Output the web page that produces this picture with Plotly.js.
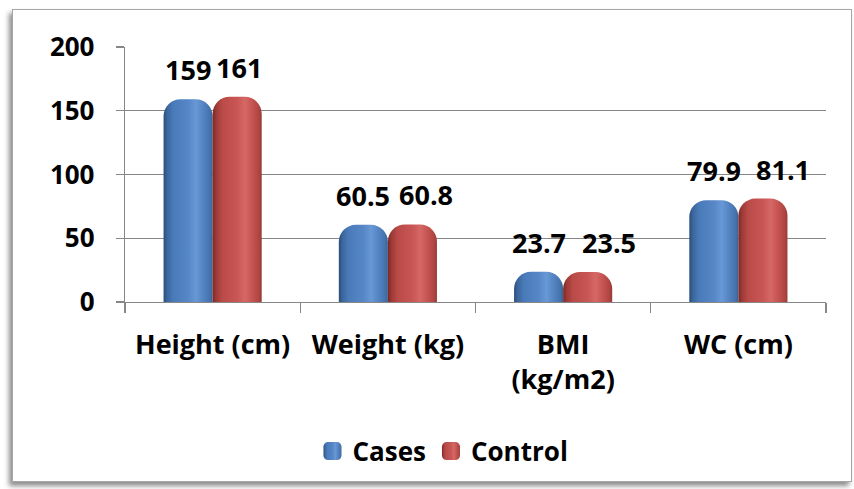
<!DOCTYPE html>
<html>
<head>
<meta charset="utf-8">
<script src="https://cdn.plot.ly/plotly-3.0.1.min.js"></script>
<style>
  html, body { margin: 0; padding: 0; background: #ffffff; }
  #wrap { position: relative; width: 854px; height: 489px; overflow: hidden; background: #ffffff; }
  #frame {
    position: absolute; left: 12px; top: 9px; width: 838px; height: 471px;
    border: 1px solid #a6a6a6; background: #ffffff;
    box-shadow: -3px 4px 5px rgba(0, 0, 0, 0.45);
  }
  #chart { position: absolute; left: 0; top: 0; width: 854px; height: 489px; }
</style>
</head>
<body>
<div id="wrap">
  <div id="frame"></div>
  <div id="chart"></div>
</div>
<script>
// Anthropometric measures, cases vs. controls
const categories = ['Height (cm)', 'Weight (kg)', 'BMI<br>(kg/m2)', 'WC (cm)'];
const casesValues = [159, 60.5, 23.7, 79.9];
const controlValues = [161, 60.8, 23.5, 81.1];
const seriesNames = ['Cases', 'Control'];
const yTickValues = [0, 50, 100, 150, 200];

// horizontal nudge (px) applied to the Control value labels
const controlLabelNudge = [2, 14, 21, 20];

const FONT = '"Open Sans", "Noto Sans", "Liberation Sans", sans-serif';
const AXIS_GREY = '#878787';
const BAR_SHIFT = 24.5;

const traces = [
  {
    type: 'bar', name: seriesNames[0], x: categories, y: casesValues,
    marker: { color: '#4f81bd', cornerradius: 17, line: { width: 0 } },
    hoverinfo: 'skip'
  },
  {
    type: 'bar', name: seriesNames[1], x: categories, y: controlValues,
    marker: { color: '#c0504d', cornerradius: 17, line: { width: 0 } },
    hoverinfo: 'skip'
  }
];

const labelFont = { family: FONT, size: 27, color: '#000000', weight: 700 };
const annotations = [];
categories.forEach((cat, i) => {
  annotations.push({
    x: cat, y: casesValues[i], text: String(casesValues[i]),
    xref: 'x', yref: 'y', showarrow: false,
    xanchor: 'center', yanchor: 'bottom',
    xshift: -BAR_SHIFT, yshift: 9, font: labelFont
  });
  annotations.push({
    x: cat, y: controlValues[i], text: String(controlValues[i]),
    xref: 'x', yref: 'y', showarrow: false,
    xanchor: 'center', yanchor: 'bottom',
    xshift: BAR_SHIFT + controlLabelNudge[i], yshift: 9, font: labelFont
  });
});

const layout = {
  width: 854, height: 489,
  margin: { l: 125, r: 28, t: 47, b: 187, pad: 0 },
  paper_bgcolor: 'rgba(0,0,0,0)',
  plot_bgcolor: 'rgba(0,0,0,0)',
  barmode: 'group', bargap: 0.44, bargroupgap: 0,
  font: { family: FONT, color: '#000000' },
  showlegend: true,
  legend: {
    orientation: 'h', x: 0.4536, xanchor: 'center', y: -0.585, yanchor: 'middle',
    font: { family: FONT, size: 26, color: '#000000', weight: 700 },
    bgcolor: 'rgba(0,0,0,0)', itemwidth: 30, tracegroupgap: 0,
    traceorder: 'normal'
  },
  xaxis: {
    type: 'category',
    showline: true, linecolor: AXIS_GREY, linewidth: 1.3,
    ticks: 'outside', ticklen: 10, tickcolor: AXIS_GREY, tickwidth: 1.3,
    tickson: 'boundaries',
    showgrid: false, zeroline: false,
    tickfont: { family: FONT, size: 27, color: '#000000', weight: 700 },
    ticklabelstandoff: 18
  },
  yaxis: {
    range: [0, 200], autorange: false,
    tickvals: yTickValues, ticktext: yTickValues.map(String),
    showline: true, linecolor: AXIS_GREY, linewidth: 1.3,
    ticks: 'outside', ticklen: 8, tickcolor: AXIS_GREY, tickwidth: 1.3,
    showgrid: true, gridcolor: AXIS_GREY, gridwidth: 1.3,
    zeroline: false,
    tickfont: { family: FONT, size: 26, color: '#000000', weight: 700 },
    ticklabelstandoff: 16
  },
  annotations: annotations
};

// cylinder-style shading for the bars and legend keys
const gradients = {
  gradCases: [
    [0, '#2b4d7a'], [0.07, '#3b659c'], [0.2, '#4a7bb9'], [0.5, '#5686c6'],
    [0.66, '#6898d5'], [0.8, '#5585c4'], [0.94, '#4673ad'], [1, '#3a6396']
  ],
  gradControl: [
    [0, '#7a2826'], [0.07, '#9c3936'], [0.2, '#ba4b48'], [0.5, '#c85654'],
    [0.66, '#d56865'], [0.8, '#c75552'], [0.94, '#b04542'], [1, '#983a37']
  ]
};

Plotly.newPlot('chart', traces, layout, { staticPlot: true, displayModeBar: false }).then(gd => {
  const NS = 'http://www.w3.org/2000/svg';
  const svg = gd.querySelector('svg.main-svg');
  const defs = document.createElementNS(NS, 'defs');
  Object.keys(gradients).forEach(id => {
    const g = document.createElementNS(NS, 'linearGradient');
    g.setAttribute('id', id);
    g.setAttribute('x1', '0'); g.setAttribute('y1', '0');
    g.setAttribute('x2', '1'); g.setAttribute('y2', '0');
    gradients[id].forEach(([off, col]) => {
      const s = document.createElementNS(NS, 'stop');
      s.setAttribute('offset', off);
      s.setAttribute('stop-color', col);
      g.appendChild(s);
    });
    defs.appendChild(g);
  });
  svg.insertBefore(defs, svg.firstChild);

  const ids = ['gradCases', 'gradControl'];
  gd.querySelectorAll('.barlayer .trace').forEach((tr, k) => {
    tr.querySelectorAll('path').forEach(p => { p.style.fill = `url(#${ids[k]})`; });
  });
  gd.querySelectorAll('.legend .traces').forEach((tr, k) => {
    tr.querySelectorAll('.legendpoints path').forEach(p => {
      p.style.fill = `url(#${ids[k]})`;
      p.style.stroke = 'none';
      const t = p.getAttribute('transform') || '';
      p.setAttribute('transform', t + ' scale(1.5)');
    });
  });
});
</script>
</body>
</html>
